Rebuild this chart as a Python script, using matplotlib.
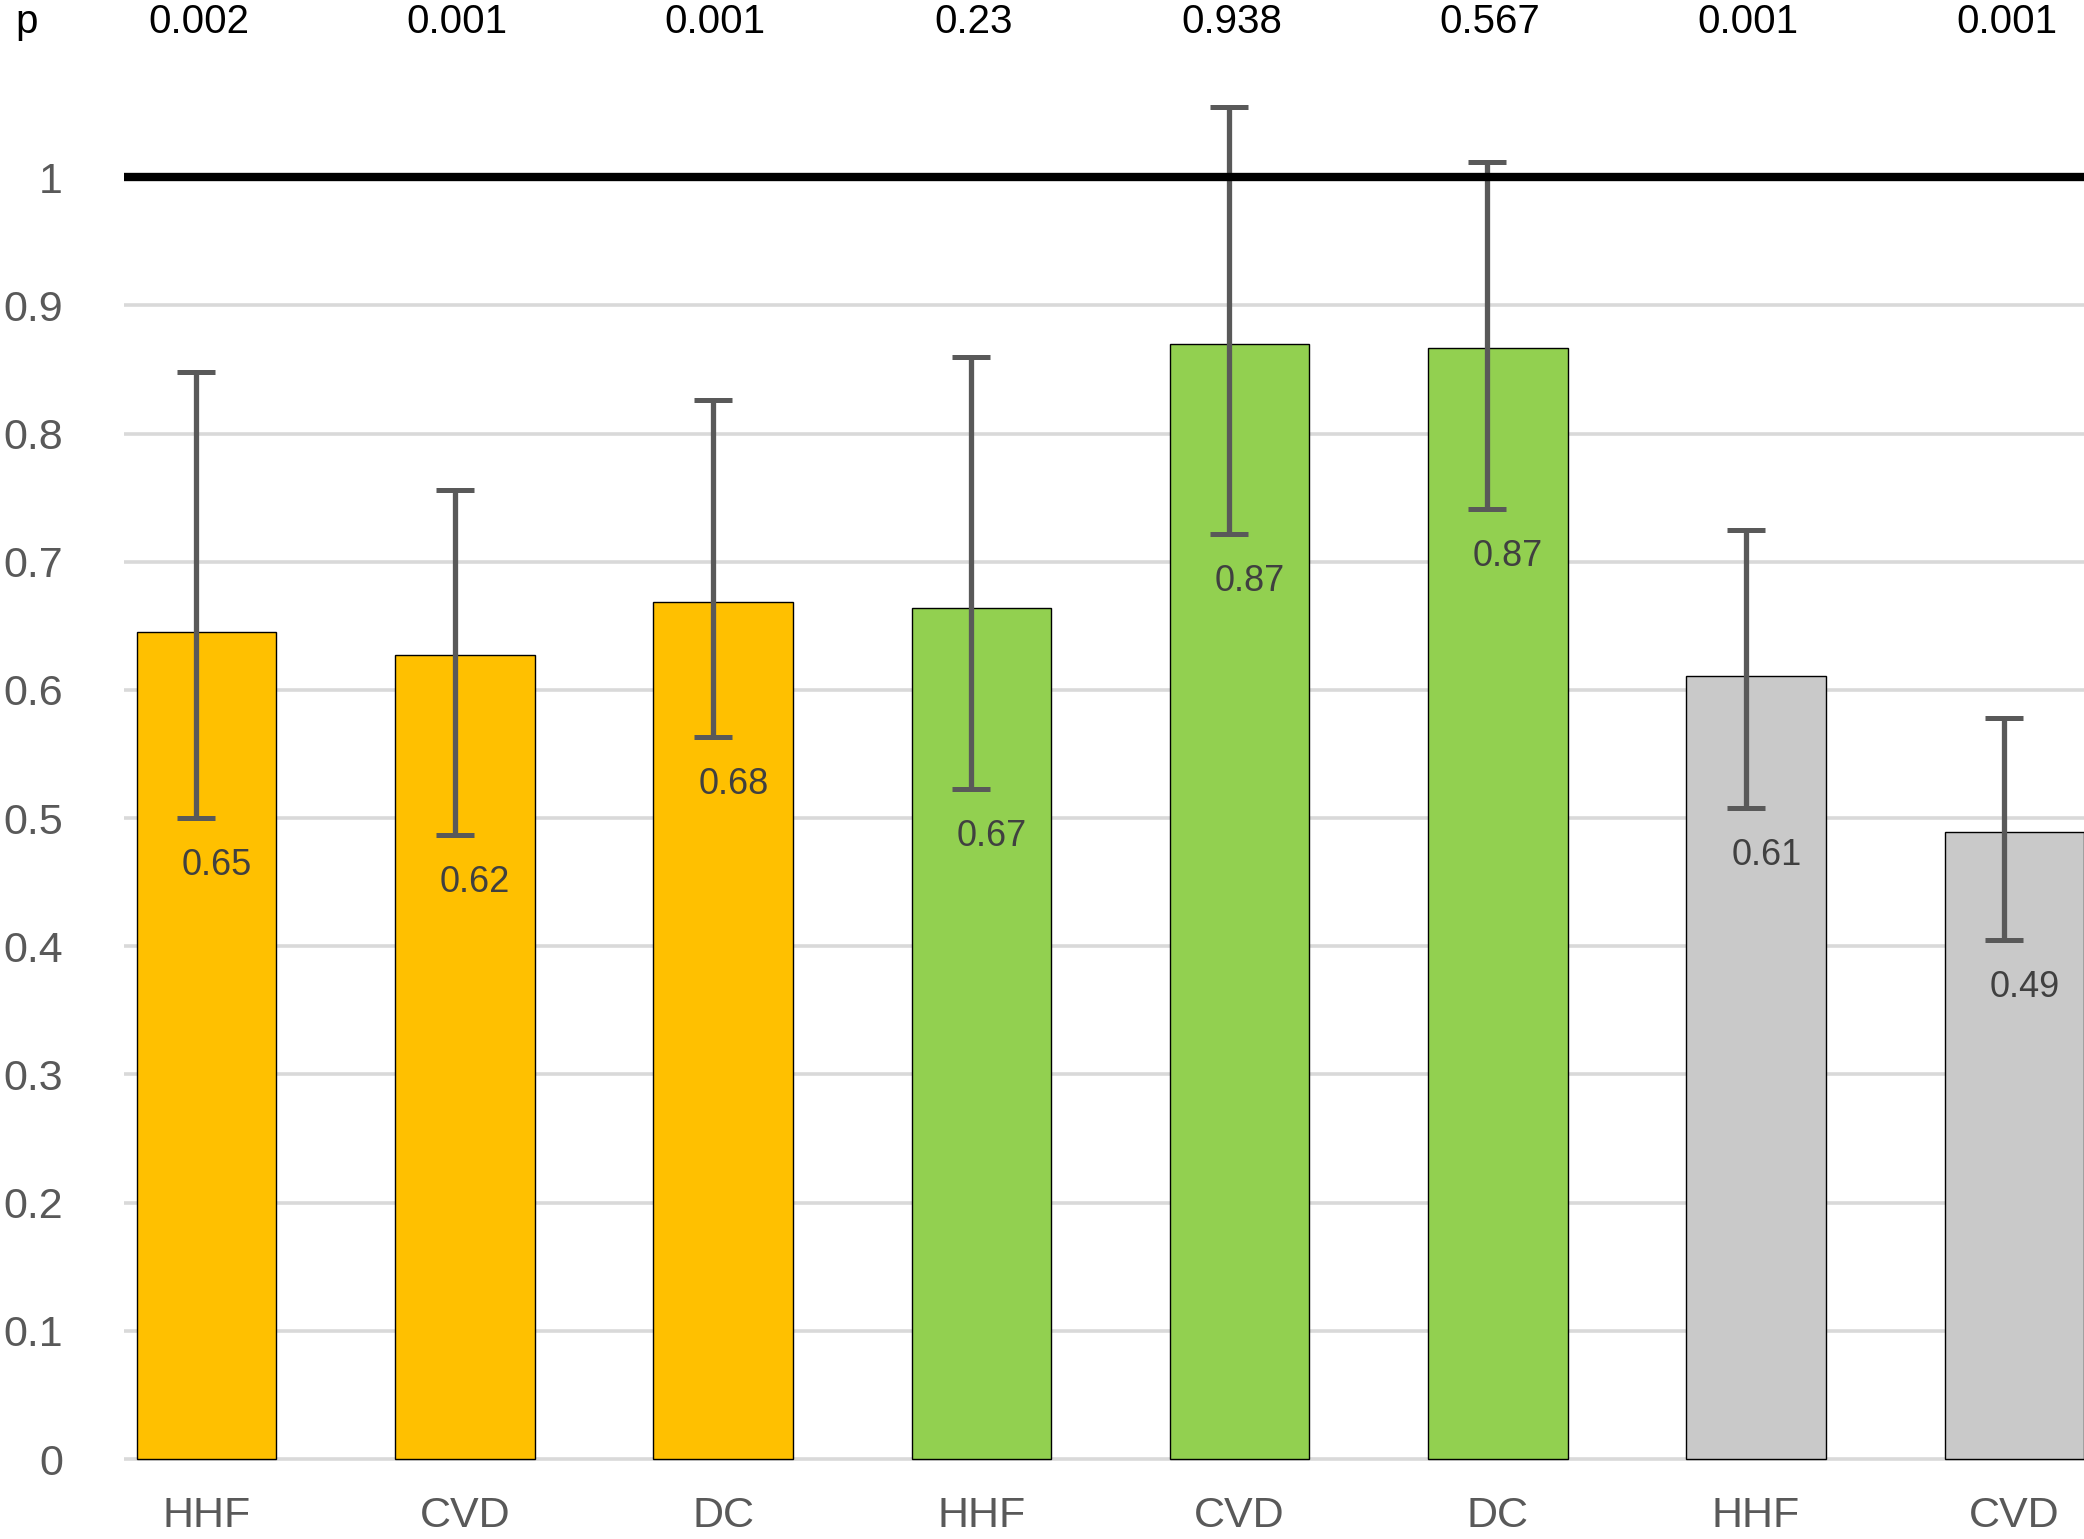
import numpy as np
import matplotlib
matplotlib.use("Agg")
import matplotlib.pyplot as plt

plt.rcParams['font.family'] = ['Liberation Sans', 'DejaVu Sans']

# data
categories = ['HHF', 'CVD', 'DC', 'HHF', 'CVD', 'DC', 'HHF', 'CVD']
values = [0.645, 0.627, 0.669, 0.664, 0.870, 0.867, 0.611, 0.489]
value_labels = ['0.65', '0.62', '0.68', '0.67', '0.87', '0.87', '0.61', '0.49']
ci_lower = [0.500, 0.487, 0.563, 0.523, 0.722, 0.741, 0.508, 0.405]
ci_upper = [0.848, 0.756, 0.826, 0.860, 1.055, 1.012, 0.725, 0.578]
p_values = ['0.002', '0.001', '0.001', '0.23', '0.938', '0.567', '0.001', '0.001']
groups = ['orange', 'orange', 'orange', 'green', 'green', 'green', 'gray', 'gray']
y_ticks = [0, 0.1, 0.2, 0.3, 0.4, 0.5, 0.6, 0.7, 0.8, 0.9, 1]
y_tick_labels = ['0', '0.1', '0.2', '0.3', '0.4', '0.5', '0.6', '0.7', '0.8', '0.9', '1']

colours = {'orange': '#FFC000', 'green': '#92D050', 'gray': '#C9C9C9'}
text_grey = '#595959'

fig = plt.figure(figsize=(20.84, 15.39), dpi=100)
ax = fig.add_axes([0.0595, 0.0478, 0.9405, 0.9203])

x = np.arange(len(categories))
vals = np.array(values)
lo = np.array(ci_lower)
hi = np.array(ci_upper)

ax.bar(x, vals, width=0.54, color=[colours[g] for g in groups],
       edgecolor='black', linewidth=1.0, zorder=2)

ax.errorbar(x - 0.04, vals, yerr=[vals - lo, hi - vals], fmt='none',
            ecolor=text_grey, elinewidth=3.8, capsize=13.5, capthick=3.6,
            zorder=3)

for xi, lab, l in zip(x, value_labels, lo):
    ax.text(xi + 0.04, l - 0.037, lab, ha='center', va='center',
            fontsize=26, color='#404040', zorder=4)

# reference line at 1
ax.axhline(1.0, color='black', linewidth=6, zorder=3)

ax.set_xlim(-0.32, 7.27)
ax.set_ylim(-0.005, 1.1)
ax.set_yticks(y_ticks)
ax.set_yticklabels(y_tick_labels)
ax.yaxis.grid(True, color='#D9D9D9', linewidth=2.6, zorder=0)
ax.set_axisbelow(True)
ax.tick_params(axis='y', length=0, pad=44, labelsize=31, labelcolor=text_grey)

ax.set_xticks(x)
ax.set_xticklabels(categories)
ax.tick_params(axis='x', length=0, pad=22, labelsize=31, labelcolor=text_grey)

for s in ax.spines.values():
    s.set_visible(False)

# p values along the top
fig.text(0.013, 0.9857, 'p', ha='center', va='center', fontsize=29, color='black')
for xi, p in zip(x, p_values):
    xf = fig.transFigure.inverted().transform(ax.transData.transform((xi - 0.03, 0)))[0]
    fig.text(xf, 0.9857, p, ha='center', va='center', fontsize=29, color='black')

fig.savefig('out.png', dpi=100)
